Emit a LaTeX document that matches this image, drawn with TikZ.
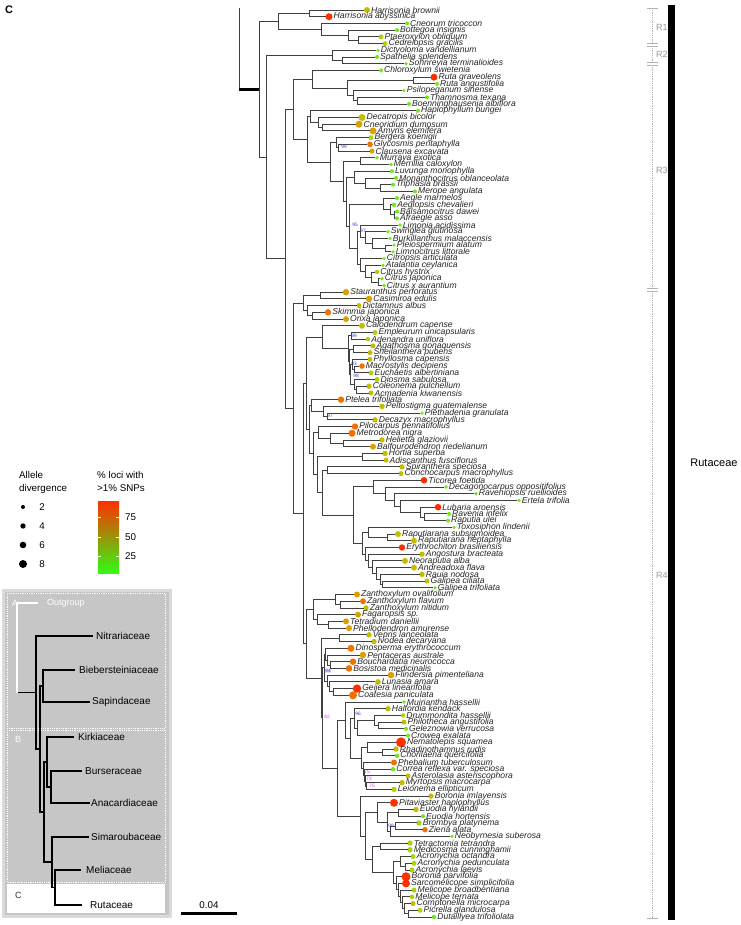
\documentclass[tikz,border=0pt]{standalone}
\usepackage{fontspec}
\setmainfont{Liberation Sans}
\usetikzlibrary{calc,positioning}

\definecolor{snpA}{RGB}{112,232,24}
\definecolor{snpB}{RGB}{168,212,10}
\definecolor{snpC}{RGB}{196,188,0}
\definecolor{snpD}{RGB}{218,160,0}
\definecolor{snpE}{RGB}{240,112,0}
\definecolor{snpF}{RGB}{255,48,0}
\definecolor{branchgray}{RGB}{64,64,64}
\definecolor{bsblue}{RGB}{60,60,200}
\definecolor{bspink}{RGB}{200,80,230}
\definecolor{insetfill}{RGB}{198,198,198}
\definecolor{insetedge}{RGB}{218,218,218}

\newcommand{\tip}[6]{%
  \node [tipdot, minimum size=#4*2pt, fill=#5] (#1) at (#3, {10+(#2-1)*6.7185}) {};
  \node [tiplab] (#1-l) at (#1.east) {#6};}
\newcommand{\clade}[5][branch]{%
  \coordinate (#2) at (perpendicular cs: horizontal line through={($(#4)!0.5!(#5)$)}, vertical line through={(#3, 0)});
  \draw [#1] (#2) |- (#4);
  \draw [#1] (#2) |- (#5);}

\begin{document}
\begin{tikzpicture}[
    x=1pt, y=-1pt,
    tipdot/.style={circle, inner sep=0pt, draw=none},
    tiplab/.style={anchor=west, inner sep=0.7pt, text=black!85, font=\fontsize{8.6}{8.6}\selectfont\itshape},
    branch/.style={draw=branchgray, line width=0.9pt, line cap=rect},
    crownstem/.style={draw=black, line width=3pt},
    bs/.style={inner sep=0pt, font=\fontsize{4.8}{5}\selectfont, text=bsblue},
    rline/.style={draw=gray!60, densely dotted, line width=0.8pt},
    rtick/.style={draw=gray!60, line width=0.8pt},
    rlab/.style={anchor=west, inner sep=0pt, text=gray!80, font=\fontsize{9}{9}\selectfont},
    inbr/.style={draw=black, line width=1.6pt, line cap=rect},
    outbr/.style={draw=white, line width=1.6pt, line cap=rect},
    famlab/.style={anchor=west, inner sep=0pt, font=\fontsize{10}{10}\selectfont},
    legtext/.style={align=left, anchor=north west, inner sep=0pt, font=\fontsize{9.8}{13.5}\selectfont},
    legnum/.style={inner sep=0pt, font=\fontsize{9.8}{10}\selectfont},
  ]
  \useasboundingbox [fill=white] (0, 0) rectangle (740, 925);

  \node [inner sep=0pt, font=\bfseries\fontsize{11}{11}\selectfont] (panelC) at (9, 10) {C};

  \tip{harbr}{1}{367}{3}{snpC}{Harrisonia brownii}
  \tip{harab}{2}{329}{3.5}{snpF}{Harrisonia abyssinica}
  \tip{cneor}{3}{407}{2}{snpA}{Cneorum tricoccon}
  \tip{botte}{4}{397}{2}{snpA}{Bottegoa insignis}
  \tip{ptaer}{5}{381}{2.5}{snpB}{Ptaeroxylon obliquum}
  \tip{cedre}{6}{385}{2.5}{snpB}{Cedrelopsis gracilis}
  \tip{dicty}{7}{378}{1.8}{snpA}{Dictyoloma vandellianum}
  \tip{spath}{8}{377}{2}{snpA}{Spathelia splendens}
  \tip{sohnr}{9}{406}{1.8}{snpA}{Sohnreyia terminalioides}
  \tip{chlor}{10}{381}{2}{snpA}{Chloroxylum swietenia}
  \tip{rutgr}{11}{434}{3.5}{snpF}{Ruta graveolens}
  \tip{rutan}{12}{437}{2}{snpA}{Ruta angustifolia}
  \tip{psilo}{13}{404}{1.8}{snpA}{Psilopeganum sinense}
  \tip{thamn}{14}{427}{2}{snpA}{Thamnosma texana}
  \tip{boenn}{15}{409}{2}{snpA}{Boenninghausenia albiflora}
  \tip{haplo}{16}{418}{2}{snpA}{Haplophyllum bungei}
  \tip{decat}{17}{362}{3.5}{snpC}{Decatropis bicolor}
  \tip{cneod}{18}{359}{3.5}{snpD}{Cneoridium dumosum}
  \tip{amyri}{19}{373}{3.5}{snpD}{Amyris elemifera}
  \tip{berge}{20}{371}{2.5}{snpB}{Bergera koenigii}
  \tip{glyco}{21}{370}{2.8}{snpE}{Glycosmis pentaphylla}
  \tip{claus}{22}{372}{2.5}{snpD}{Clausena excavata}
  \tip{murra}{23}{377}{1.8}{snpA}{Murraya exotica}
  \tip{merri}{24}{391}{1.8}{snpA}{Merrillia caloxylon}
  \tip{luvun}{25}{392}{2}{snpA}{Luvunga monophylla}
  \tip{monan}{26}{396}{2}{snpA}{Monanthocitrus oblanceolata}
  \tip{triph}{27}{393}{2}{snpA}{Triphasia brassii}
  \tip{merop}{28}{415}{2}{snpA}{Merope angulata}
  \tip{aegle}{29}{397}{2}{snpA}{Aegle marmelos}
  \tip{aeglo}{30}{394}{2.2}{snpA}{Aeglopsis chevalieri}
  \tip{balsa}{31}{397}{2}{snpA}{Balsamocitrus dawei}
  \tip{afrae}{32}{397}{2}{snpA}{Afraegle asso}
  \tip{limon}{33}{400}{1.8}{snpA}{Limonia acidissima}
  \tip{swing}{34}{388}{1.8}{snpA}{Swinglea glutinosa}
  \tip{burki}{35}{390}{1.8}{snpA}{Burkillanthus malaccensis}
  \tip{pleio}{36}{394}{1.8}{snpA}{Pleiospermium alatum}
  \tip{limno}{37}{393}{1.8}{snpA}{Limnocitrus littorale}
  \tip{citro}{38}{384}{1.8}{snpA}{Citropsis articulata}
  \tip{atala}{39}{383}{1.8}{snpA}{Atalantia ceylanica}
  \tip{cihys}{40}{377}{2.2}{snpB}{Citrus hystrix}
  \tip{cijap}{41}{382}{1.8}{snpA}{Citrus japonica}
  \tip{ciaur}{42}{384}{1.8}{snpA}{Citrus x aurantium}
  \tip{staur}{43}{346}{3.2}{snpD}{Stauranthus perforatus}
  \tip{casim}{44}{369}{3.2}{snpD}{Casimiroa edulis}
  \tip{dicta}{45}{359}{2.5}{snpC}{Dictamnus albus}
  \tip{skimm}{46}{328}{3.2}{snpE}{Skimmia japonica}
  \tip{orixa}{47}{346}{3}{snpD}{Orixa japonica}
  \tip{calod}{48}{362}{3}{snpC}{Calodendrum capense}
  \tip{emple}{49}{375}{2.5}{snpB}{Empleurum unicapsularis}
  \tip{adena}{50}{368}{2.2}{snpB}{Adenandra uniflora}
  \tip{agath}{51}{373}{2.5}{snpC}{Agathosma gonaquensis}
  \tip{sheil}{52}{370}{2.5}{snpC}{Sheilanthera pubens}
  \tip{phyll}{53}{370}{2.5}{snpC}{Phyllosma capensis}
  \tip{macro}{54}{362}{2.8}{snpE}{Macrostylis decipiens}
  \tip{eucha}{55}{371}{2.5}{snpB}{Euchaetis albertiniana}
  \tip{diosm}{56}{377}{2.5}{snpB}{Diosma sabulosa}
  \tip{coleo}{57}{369}{2.7}{snpC}{Coleonema pulchellum}
  \tip{acmad}{58}{371}{2.5}{snpC}{Acmadenia kiwanensis}
  \tip{ptele}{59}{341}{3.2}{snpE}{Ptelea trifoliata}
  \tip{pelto}{60}{382}{2.8}{snpC}{Peltostigma guatemalense}
  \tip{pleth}{61}{422}{1.8}{snpA}{Plethadenia granulata}
  \tip{decaz}{62}{375}{2.7}{snpC}{Decazyx macrophyllus}
  \tip{piloc}{63}{355}{3.2}{snpE}{Pilocarpus pennatifolius}
  \tip{metro}{64}{352}{3.5}{snpE}{Metrodorea nigra}
  \tip{helie}{65}{382}{2.7}{snpC}{Helietta glaziovii}
  \tip{balfo}{66}{373}{3}{snpD}{Balfourodendron riedelianum}
  \tip{horti}{67}{385}{2.7}{snpC}{Hortia superba}
  \tip{adisc}{68}{386}{2.5}{snpC}{Adiscanthus fusciflorus}
  \tip{spira}{69}{402}{2.7}{snpC}{Spiranthera speciosa}
  \tip{conch}{70}{401}{2.5}{snpC}{Conchocarpus macrophyllus}
  \tip{ticor}{71}{424}{3.3}{snpF}{Ticorea foetida}
  \tip{decag}{72}{446}{1.8}{snpA}{Decagonocarpus oppositifolius}
  \tip{ravop}{73}{476}{1.8}{snpA}{Raveniopsis ruellioides}
  \tip{ertel}{74}{519}{1.8}{snpA}{Ertela trifolia}
  \tip{lubar}{75}{438}{3.3}{snpF}{Lubaria aroensis}
  \tip{raven}{76}{449}{2}{snpA}{Ravenia infelix}
  \tip{raput}{77}{448}{2}{snpA}{Raputia ulei}
  \tip{toxos}{78}{454}{1.8}{snpA}{Toxosiphon lindenii}
  \tip{rapsu}{79}{398}{3}{snpC}{Raputiarana subsigmoidea}
  \tip{raphe}{80}{414}{3}{snpC}{Raputiarana heptaphylla}
  \tip{eryth}{81}{402}{3.2}{snpF}{Erythrochiton brasiliensis}
  \tip{angos}{82}{422}{2.7}{snpC}{Angostura bracteata}
  \tip{neora}{83}{405}{3}{snpC}{Neoraputia alba}
  \tip{andre}{84}{414}{3}{snpC}{Andreadoxa flava}
  \tip{rauia}{85}{422}{2.7}{snpC}{Rauia nodosa}
  \tip{galci}{86}{427}{2.5}{snpC}{Galipea ciliata}
  \tip{galtr}{87}{435}{1.8}{snpA}{Galipea trifoliata}
  \tip{zanov}{88}{357}{3}{snpD}{Zanthoxylum ovalifolium}
  \tip{zanfl}{89}{363}{3}{snpE}{Zanthoxylum flavum}
  \tip{zanni}{90}{366}{2.7}{snpC}{Zanthoxylum nitidum}
  \tip{fagar}{91}{358}{3}{snpD}{Fagaropsis sp.}
  \tip{tetra}{92}{346}{3}{snpD}{Tetradium daniellii}
  \tip{phell}{93}{349}{3}{snpD}{Phellodendron amurense}
  \tip{vepri}{94}{369}{2.7}{snpC}{Vepris lanceolata}
  \tip{ivode}{95}{374}{2.7}{snpC}{Ivodea decaryana}
  \tip{dinos}{96}{351}{3.5}{snpE}{Dinosperma erythrococcum}
  \tip{penta}{97}{363}{3.3}{snpD}{Pentaceras australe}
  \tip{bouch}{98}{353}{3.3}{snpE}{Bouchardatia neurococca}
  \tip{bosis}{99}{349}{3.3}{snpE}{Bosistoa medicinalis}
  \tip{flind}{100}{391}{3.3}{snpD}{Flindersia pimenteliana}
  \tip{lunas}{101}{378}{2.8}{snpC}{Lunasia amara}
  \tip{geije}{102}{357}{4.2}{snpF}{Geijera linearifolia}
  \tip{coate}{103}{353}{4}{snpE}{Coatesia paniculata}
  \tip{muiri}{104}{404}{1.8}{snpA}{Muiriantha hassellii}
  \tip{halfo}{105}{388}{2.7}{snpC}{Halfordia kendack}
  \tip{drumm}{106}{403}{2.2}{snpB}{Drummondita hassellii}
  \tip{philo}{107}{404}{2.5}{snpC}{Philotheca angustifolia}
  \tip{gelez}{108}{406}{2}{snpA}{Geleznowia verrucosa}
  \tip{crowe}{109}{408}{2}{snpA}{Crowea exalata}
  \tip{nemat}{110}{401}{5}{snpF}{Nematolepis squamea}
  \tip{rhadi}{111}{396}{2.7}{snpC}{Rhadinothamnus rudis}
  \tip{chori}{112}{397}{2.2}{snpA}{Chorilaena quercifolia}
  \tip{phebo}{113}{394}{3}{snpE}{Phebalium tuberculosum}
  \tip{corre}{114}{393}{2.2}{snpA}{Correa reflexa var. speciosa}
  \tip{aster}{115}{408}{2.5}{snpC}{Asterolasia asteriscophora}
  \tip{myrto}{116}{402}{2.7}{snpC}{Myrtopsis macrocarpa}
  \tip{leion}{117}{394}{2.7}{snpB}{Leionema ellipticum}
  \tip{borim}{118}{431}{2.7}{snpC}{Boronia imlayensis}
  \tip{pitav}{119}{394}{4}{snpF}{Pitaviaster haplophyllus}
  \tip{euohy}{120}{416}{2.7}{snpC}{Euodia hylandii}
  \tip{euoho}{121}{423}{2}{snpA}{Euodia hortensis}
  \tip{bromb}{122}{419}{2.7}{snpB}{Brombya platynema}
  \tip{zieri}{123}{425}{2.7}{snpE}{Zieria alata}
  \tip{neoby}{124}{452}{1.8}{snpA}{Neobyrnesia suberosa}
  \tip{tetro}{125}{410}{2.7}{snpB}{Tetractomia tetrandra}
  \tip{medic}{126}{410}{2.7}{snpB}{Medicosma cunninghamii}
  \tip{acroc}{127}{413}{2.5}{snpB}{Acronychia octandra}
  \tip{acrpe}{128}{414}{2.5}{snpB}{Acronychia pedunculata}
  \tip{acrla}{129}{412}{2.5}{snpB}{Acronychia laevis}
  \tip{borpa}{130}{406}{4.5}{snpF}{Boronia parvifolia}
  \tip{sarco}{131}{406}{4}{snpF}{Sarcomelicope simplicifolia}
  \tip{melbr}{132}{414}{2.5}{snpB}{Melicope broadbentiana}
  \tip{melte}{133}{412}{2.3}{snpB}{Melicope ternata}
  \tip{compt}{134}{413}{2.5}{snpC}{Comptonella microcarpa}
  \tip{picre}{135}{420}{2.5}{snpB}{Picrella glandulosa}
  \tip{dutai}{136}{434}{2.2}{snpA}{Dutaillyea trifoliolata}

  \clade{n_harr}{309}{harbr}{harab}
  \clade{n_ptae}{358}{ptaer}{cedre}
  \clade{n_bott}{348}{botte}{n_ptae}
  \clade{n_cneo}{321}{cneor}{n_bott}
  \clade{n_r1}{278}{n_harr}{n_cneo}
  \clade{n_spat}{342}{spath}{sohnr}
  \clade{n_r2}{332}{dicty}{n_spat}
  \clade{n_ruta}{413}{rutgr}{rutan}
  \clade{n_tham}{357}{thamn}{boenn}
  \clade{n_psil}{353}{psilo}{n_tham}
  \clade{n_rut2}{347}{n_ruta}{n_psil}
  \clade{n_chlo}{312}{chlor}{n_rut2}
  \clade{n_cnea}{322}{cneod}{amyri}
  \clade{n_deca}{318}{decat}{n_cnea}
  \clade{n_hapl}{310}{haplo}{n_deca}
  \clade{n_glyc}{338}{glyco}{claus}
  \clade{n_berg}{336}{berge}{n_glyc}
  \clade{n_murr}{360}{murra}{merri}
  \clade{n_trip}{380}{triph}{merop}
  \clade{n_mona}{365}{monan}{n_trip}
  \clade{n_luvu}{354}{luvun}{n_mona}
  \clade{n_bals}{394}{balsa}{afrae}
  \clade{n_aeg2}{390}{aeglo}{n_bals}
  \clade{n_aeg1}{383}{aegle}{n_aeg2}
  \clade{n_pleio}{385}{pleio}{limno}
  \clade{n_burk}{372}{burki}{n_pleio}
  \clade{n_swin}{365}{swing}{n_burk}
  \clade{n_limo}{360}{limon}{n_swin}
  \clade{n_cjap}{378}{cijap}{ciaur}
  \clade{n_chys}{371}{cihys}{n_cjap}
  \clade{n_atal}{365}{atala}{n_chys}
  \clade{n_citr}{360}{citro}{n_atal}
  \clade{n_citg}{357}{n_limo}{n_citr}
  \clade{n_aegc}{349}{n_aeg1}{n_citg}
  \clade{n_luv2}{346}{n_luvu}{n_aegc}
  \clade{n_murc}{343}{n_murr}{n_luv2}
  \clade{n_aur}{330}{n_berg}{n_murc}
  \clade{n_hapaur}{307}{n_hapl}{n_aur}
  \clade{n_r3}{293}{n_chlo}{n_hapaur}
  \clade{n_stau}{320}{staur}{casim}
  \clade{n_skim}{312}{skimm}{orixa}
  \clade{n_dict}{307}{dicta}{n_skim}
  \clade{n_amy2}{303}{n_stau}{n_dict}
  \clade{n_emp}{351}{emple}{adena}
  \clade{n_aga}{353}{agath}{sheil}
  \clade{n_mac}{354}{macro}{eucha}
  \clade{n_phy}{352}{phyll}{n_mac}
  \clade{n_cole}{356}{coleo}{acmad}
  \clade{n_dios}{354}{diosm}{n_cole}
  \clade{n_dio2}{350}{n_phy}{n_dios}
  \clade{n_dio3}{349}{n_aga}{n_dio2}
  \clade{n_dio4}{348}{n_emp}{n_dio3}
  \clade{n_calo}{322}{calod}{n_dio4}
  \clade{n_plet}{327}{pleth}{decaz}
  \clade{n_pelt}{323}{pelto}{n_plet}
  \clade{n_ptel}{311}{ptele}{n_pelt}
  \clade{n_heli}{343}{helie}{balfo}
  \clade{n_metr}{330}{metro}{n_heli}
  \clade{n_pilo}{318}{piloc}{n_metr}
  \clade{n_hort}{362}{horti}{adisc}
  \clade{n_spir}{327}{spira}{conch}
  \clade{n_rave}{424}{raven}{raput}
  \clade{n_luba}{420}{lubar}{n_rave}
  \clade{n_erte}{400}{ertel}{n_luba}
  \clade{n_ravp}{394}{ravop}{n_erte}
  \clade{n_decg}{385}{decag}{n_ravp}
  \clade{n_tico}{373}{ticor}{n_decg}
  \clade{n_rapu}{387}{rapsu}{raphe}
  \clade{n_toxo}{368}{toxos}{n_rapu}
  \clade{n_gali}{382}{galci}{galtr}
  \clade{n_raui}{380}{rauia}{n_gali}
  \clade{n_andr}{376}{andre}{n_raui}
  \clade{n_neor}{372}{neora}{n_andr}
  \clade{n_ango}{368}{angos}{n_neor}
  \clade{n_eryt}{365}{eryth}{n_ango}
  \clade{n_toxg}{362}{n_toxo}{n_eryt}
  \clade{n_gal}{353}{n_tico}{n_toxg}
  \clade{n_u1}{322}{n_spir}{n_gal}
  \clade{n_u2}{317}{n_hort}{n_u1}
  \clade{n_u3}{313}{n_pilo}{n_u2}
  \clade{n_u4}{309}{n_ptel}{n_u3}
  \clade{n_u5}{306}{n_calo}{n_u4}
  \clade{n_zfla}{340}{zanfl}{zanni}
  \clade{n_zant}{335}{zanov}{n_zfla}
  \clade{n_tetr}{328}{tetra}{phell}
  \clade{n_faga}{317}{fagar}{n_tetr}
  \clade{n_zan2}{313}{n_zant}{n_faga}
  \clade{n_vepr}{339}{vepri}{ivode}
  \clade{n_bouc}{330}{bouch}{bosis}
  \clade{n_pent}{327}{penta}{n_bouc}
  \clade{n_dino}{325}{dinos}{n_pent}
  \clade{n_geij}{333}{geije}{coate}
  \clade{n_luna}{329}{lunas}{n_geij}
  \clade{n_flin}{327}{flind}{n_luna}
  \clade{n_aus1}{324}{n_dino}{n_flin}
  \clade{n_phil}{378}{philo}{gelez}
  \clade{n_drum}{374}{drumm}{n_phil}
  \clade{n_dc}{357}{n_drum}{crowe}
  \clade{n_hd}{354}{halfo}{n_dc}
  \clade{n_rhad}{382}{rhadi}{chori}
  \clade{n_nema}{367}{nemat}{n_rhad}
  \clade{n_myrt}{366}{myrto}{leion}
  \clade{n_aste}{365}{aster}{n_myrt}
  \clade{n_corr}{364}{corre}{n_aste}
  \clade{n_pheb}{363}{phebo}{n_corr}
  \clade{n_neph}{361}{n_nema}{n_pheb}
  \clade{n_bx}{350}{n_hd}{n_neph}
  \clade{n_bor1}{345}{muiri}{n_bx}
  \clade{n_euod}{398}{euohy}{euoho}
  \clade{n_brom}{395}{bromb}{zieri}
  \clade{n_neob}{390}{n_brom}{neoby}
  \clade{n_eu2}{387}{n_euod}{n_neob}
  \clade{n_pita}{377}{pitav}{n_eu2}
  \clade{n_tetc}{380}{tetro}{medic}
  \clade{n_acr2}{405}{acrpe}{acrla}
  \clade{n_acr}{400}{acroc}{n_acr2}
  \clade{n_picr}{408}{picre}{dutai}
  \clade{n_comp}{404}{compt}{n_picr}
  \clade{n_mter}{402}{melte}{n_comp}
  \clade{n_mbro}{400}{melbr}{n_mter}
  \clade{n_sarc}{398}{sarco}{n_mbro}
  \clade{n_bpar}{396}{borpa}{n_sarc}
  \clade{n_acr3}{393}{n_acr}{n_bpar}
  \clade{n_acr4}{372}{n_tetc}{n_acr3}
  \clade{n_y}{365}{n_pita}{n_acr4}
  \clade{n_boro}{360}{borim}{n_y}
  \clade{n_bm}{337}{n_bor1}{n_boro}
  \clade{n_l3}{322.5}{n_aus1}{n_bm}
  \clade{n_l2}{321}{n_vepr}{n_l3}
  \clade{n_low}{306}{n_zan2}{n_l2}
  \clade{n_r4b}{303}{n_u5}{n_low}
  \clade{n_r4}{293}{n_amy2}{n_r4b}
  \clade{n_x}{285}{n_r3}{n_r4}
  \clade{n_core}{266}{n_r2}{n_x}
  \clade{n_crown}{259}{n_r1}{n_core}
  \coordinate (stemtop) at (239, 8);
  \coordinate (n_stem) at (stemtop |- n_crown);
  \draw [branch] (stemtop) -- (n_stem);
  \draw [crownstem] (n_stem) -- (n_crown);

  \node [bs] (bs1) at (344, 147) {99};
  \node [bs] (bs2) at (355, 225) {95};
  \node [bs] (bs3) at (363, 231) {97};
  \node [bs] (bs4) at (354, 336) {99};
  \node [bs] (bs5) at (354, 364) {93};
  \node [bs] (bs6) at (356, 376) {98};
  \node [bs] (bs7) at (330, 416) {97};
  \node [bs, fill=blue!12] (bs8) at (328, 671) {94};
  \node [bs, text=bspink] (bs9) at (327, 717) {92};
  \node [bs] (bs10) at (358, 714) {96};
  \node [bs, text=bspink] (bs11) at (367, 772) {75};
  \node [bs, text=bspink] (bs12) at (369, 779) {73};
  \node [bs, text=bspink] (bs13) at (372, 786) {75};
  \node [bs] (bs14) at (391, 826) {99};

  \draw [rline] (652, 8) -- (652, 43);
  \draw [rline] (652, 46) -- (652, 62);
  \draw [rline] (652, 65) -- (652, 288);
  \draw [rline] (652, 291) -- (652, 918);
  \foreach \ty in {8, 43, 46, 62, 65, 288, 291, 918}
    \draw [rtick] (647, \ty) -- (658, \ty);
  \node [rlab] (R1) at (656, 27) {R1};
  \node [rlab] (R2) at (656, 54) {R2};
  \node [rlab] (R3) at (656, 170) {R3};
  \node [rlab] (R4) at (656, 575) {R4};
  \node [fill=black, inner sep=0pt, minimum width=7pt, minimum height=915pt] (rutbar) at (671.5, 462.5) {};
  \node [inner sep=0pt, font=\fontsize{11}{11}\selectfont, right=15pt of rutbar] (rutlab) {Rutaceae};

  \coordinate (sb-a) at (181, 913);
  \coordinate (sb-b) at (237, 913);
  \coordinate (sb-m) at ($(sb-a)!0.5!(sb-b)$);
  \draw [line width=3pt] (sb-a) -- (sb-b);
  \node [legnum, above=4pt of sb-m] (sblab) {0.04};

  \node [legtext] (leg1) at (19, 471) {Allele\\divergence};
  \foreach \r/\v/\yy in {2/2/507, 2.7/4/526, 3.3/6/545, 4/8/564} {
    \node [circle, fill=black, inner sep=0pt, minimum size=\r*2pt] (ad\v) at (23, \yy) {};
    \node [legnum] (adl\v) at (42, \yy) {\v};
  }
  \node [legtext] (leg2) at (97, 471) {\% loci with\\>1\% SNPs};
  \shade [top color=snpF, middle color={rgb,255:red,190;green,182;blue,0}, bottom color={rgb,255:red,50;green,250;blue,20}] (98, 501) rectangle (119, 573);
  \foreach \v/\yy in {75/517, 50/537, 25/556} {
    \draw [white, line width=0.8pt] (98, \yy) -- (101, \yy);
    \draw [white, line width=0.8pt] (116, \yy) -- (119, \yy);
    \node [legnum, anchor=west] (snp\v) at (125, \yy) {\v};
  }

  \draw [insetedge, line width=3pt, fill=insetfill] (3, 590) rectangle (170, 916);
  \draw [white, densely dotted, line width=0.8pt] (7, 593) rectangle (165, 728);
  \draw [white, densely dotted, line width=0.8pt] (7, 730) rectangle (165, 882);
  \fill [white] (7, 884) rectangle (165, 913);
  \node [famlab, text=white, font=\fontsize{9}{9}\selectfont] (boxA) at (12, 603) {A};
  \node [famlab, text=white, font=\fontsize{9}{9}\selectfont] (boxB) at (15, 739) {B};
  \node [famlab, text=black!80, font=\fontsize{9}{9}\selectfont] (boxC) at (15, 895) {C};

  \coordinate (i_nitr) at (92, 636);
  \coordinate (i_bieb) at (74, 670);
  \coordinate (i_sapi) at (89, 702);
  \coordinate (i_kirk) at (73, 737);
  \coordinate (i_burs) at (81, 771);
  \coordinate (i_anac) at (89, 803);
  \coordinate (i_sima) at (88, 837);
  \coordinate (i_meli) at (80, 870);
  \coordinate (i_ruta) at (81, 905);
  \coordinate (i_out) at (37, 603);
  \node [famlab, right=4pt of i_nitr] (l_nitr) {Nitrariaceae};
  \node [famlab, right=5pt of i_bieb] (l_bieb) {Biebersteiniaceae};
  \node [famlab, right=3pt of i_sapi] (l_sapi) {Sapindaceae};
  \node [famlab, right=5pt of i_kirk] (l_kirk) {Kirkiaceae};
  \node [famlab, right=4pt of i_burs] (l_burs) {Burseraceae};
  \node [famlab, right=2pt of i_anac] (l_anac) {Anacardiaceae};
  \node [famlab, right=3pt of i_sima] (l_sima) {Simaroubaceae};
  \node [famlab, right=6pt of i_meli] (l_meli) {Meliaceae};
  \node [famlab, right=9pt of i_ruta] (l_ruta) {Rutaceae};
  \node [famlab, text=white, font=\fontsize{9}{9}\selectfont, right=10pt of i_out] (l_out) {Outgroup};
  \clade[inbr]{i_bs}{43}{i_bieb}{i_sapi}
  \clade[inbr]{i_ba}{51}{i_burs}{i_anac}
  \clade[inbr]{i_kba}{47}{i_kirk}{i_ba}
  \clade[inbr]{i_mr}{55}{i_meli}{i_ruta}
  \clade[inbr]{i_smr}{52}{i_sima}{i_mr}
  \clade[inbr]{i_ks}{44}{i_kba}{i_smr}
  \clade[inbr]{i_bsk}{40}{i_bs}{i_ks}
  \clade[inbr]{i_ing}{36}{i_nitr}{i_bsk}
  \coordinate (i_root) at (perpendicular cs: horizontal line through={(i_ing)}, vertical line through={(17, 0)});
  \draw [inbr] (i_root) -- (i_ing);
  \draw [outbr] (i_root) |- (i_out);
\end{tikzpicture}
\end{document}
